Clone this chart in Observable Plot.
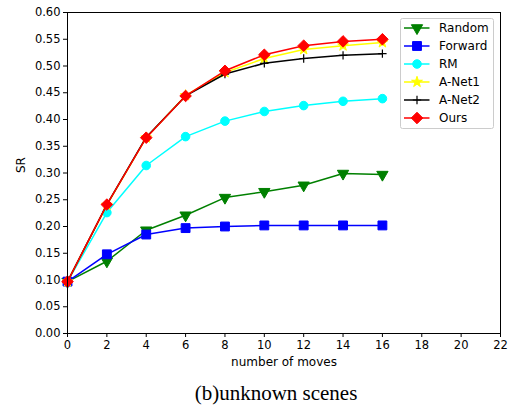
<!DOCTYPE html>
<html><head><meta charset="utf-8">
<script src="https://cdn.jsdelivr.net/npm/d3@7"></script>
<script src="https://cdn.jsdelivr.net/npm/@observablehq/plot@0.6"></script>
<style>
html,body{margin:0;background:#fff;overflow:hidden;}
#wrap{width:515px;height:405px;position:relative;}
#cap{font-family:"Liberation Serif","Times New Roman",serif;font-size:21px;line-height:24px;position:absolute;left:0;top:381px;width:515px;padding-left:37px;box-sizing:border-box;text-align:center;color:black;}
</style></head><body>
<div id="wrap"><div id="chart"></div><div id="cap">(b)unknown scenes</div></div>
<script>
const moves = [0, 2, 4, 6, 8, 10, 12, 14, 16];
const random  = [0.097, 0.135, 0.193, 0.221, 0.254, 0.265, 0.277, 0.299, 0.297];
const forward = [0.097, 0.148, 0.185, 0.197, 0.200, 0.202, 0.202, 0.202, 0.202];
const rm      = [0.097, 0.226, 0.314, 0.368, 0.397, 0.415, 0.426, 0.434, 0.439];
const anet1   = [0.097, 0.240, 0.366, 0.445, 0.488, 0.514, 0.531, 0.538, 0.544];
const anet2   = [0.097, 0.241, 0.367, 0.444, 0.485, 0.505, 0.514, 0.520, 0.523];
const ours    = [0.097, 0.241, 0.366, 0.444, 0.491, 0.521, 0.538, 0.546, 0.550];
const xTicks = [0,2,4,6,8,10,12,14,16,18,20,22];
const yTicks = [0,0.05,0.1,0.15,0.2,0.25,0.3,0.35,0.4,0.45,0.5,0.55,0.6];

const series = [
  {name:"Random", vals:random, color:"#008000", symbol:"triangle", r:4.2, rotate:180},
  {name:"Forward", vals:forward, color:"#0000ff", symbol:"square", r:5.0, rotate:0},
  {name:"RM", vals:rm, color:"#00ffff", symbol:"circle", r:4.3, rotate:0},
  {name:"A-Net1", vals:anet1, color:"#ffff00", symbol:"star", r:3.4, rotate:0},
  {name:"A-Net2", vals:anet2, color:"#000000", symbol:"plus", r:2.8, rotate:0},
  {name:"Ours", vals:ours, color:"#ff0000", symbol:"diamond2", r:5.2, rotate:0}
];

const marks = [];
for (const s of series) {
  const data = moves.map((m,i)=>({x:m, y:s.vals[i]}));
  marks.push(Plot.line(data, {x:"x", y:"y", stroke:s.color, strokeWidth:1.5}));
  const filled = s.symbol !== "plus";
  marks.push(Plot.dot(data, {x:"x", y:"y", symbol:()=>s.symbol, r:s.r, rotate:s.rotate,
    fill: filled ? s.color : "none", stroke:s.color, strokeWidth: filled ? 1 : 1.2}));
}

const plot = Plot.plot({
  width:515, height:375,
  marginLeft:67, marginRight:15, marginTop:12, marginBottom:42,
  style:{fontFamily:"'DejaVu Sans', sans-serif", fontSize:"11.5px", color:"black", background:"white"},
  x:{domain:[0,22], ticks:xTicks, label:null, tickSize:4, tickPadding:3, tickFormat:d3.format("d")},
  y:{domain:[0,0.6], ticks:yTicks, label:null, tickSize:4, tickPadding:3, tickFormat:d3.format(".2f")},
  marks:[
    ...marks,
    Plot.frame({stroke:"black", strokeWidth:1}),
    Plot.text(["SR"], {frameAnchor:"left", dx:-46, rotate:-90, fontSize:12, fill:"black"}),
    Plot.text(["number of moves"], {frameAnchor:"bottom", dy:32, fontSize:12, fill:"black"})
  ]
});
document.getElementById("chart").appendChild(plot);

// legend
const svg = d3.select(plot);
const lg = svg.append("g").attr("transform","translate(400.5,18.5)").attr("text-anchor","start");
lg.append("rect").attr("width",93).attr("height",110).attr("rx",2)
  .attr("fill","white").attr("stroke","#cccccc").attr("stroke-width",1);
const sym = {triangle:d3.symbolTriangle, square:d3.symbolSquare, circle:d3.symbolCircle,
  star:d3.symbolStar, plus:d3.symbolPlus, diamond2:d3.symbolDiamond2};
series.forEach((s,i)=>{
  const g = lg.append("g").attr("transform",`translate(0,${9.5+i*18})`);
  g.append("line").attr("x1",3.5).attr("x2",29).attr("stroke",s.color).attr("stroke-width",1.5);
  const filled = s.symbol !== "plus";
  g.append("path").attr("d", d3.symbol(sym[s.symbol], Math.PI*s.r*s.r)())
    .attr("transform",`translate(16.5,0) rotate(${s.rotate})`)
    .attr("fill", filled ? s.color : "none").attr("stroke", s.color).attr("stroke-width", filled?1:1.2);
  g.append("text").attr("x",38.5).attr("y",0).attr("dy","0.35em").attr("font-size",12)
    .attr("text-anchor","start").attr("fill","black").text(s.name);
});
</script>
</body></html>
